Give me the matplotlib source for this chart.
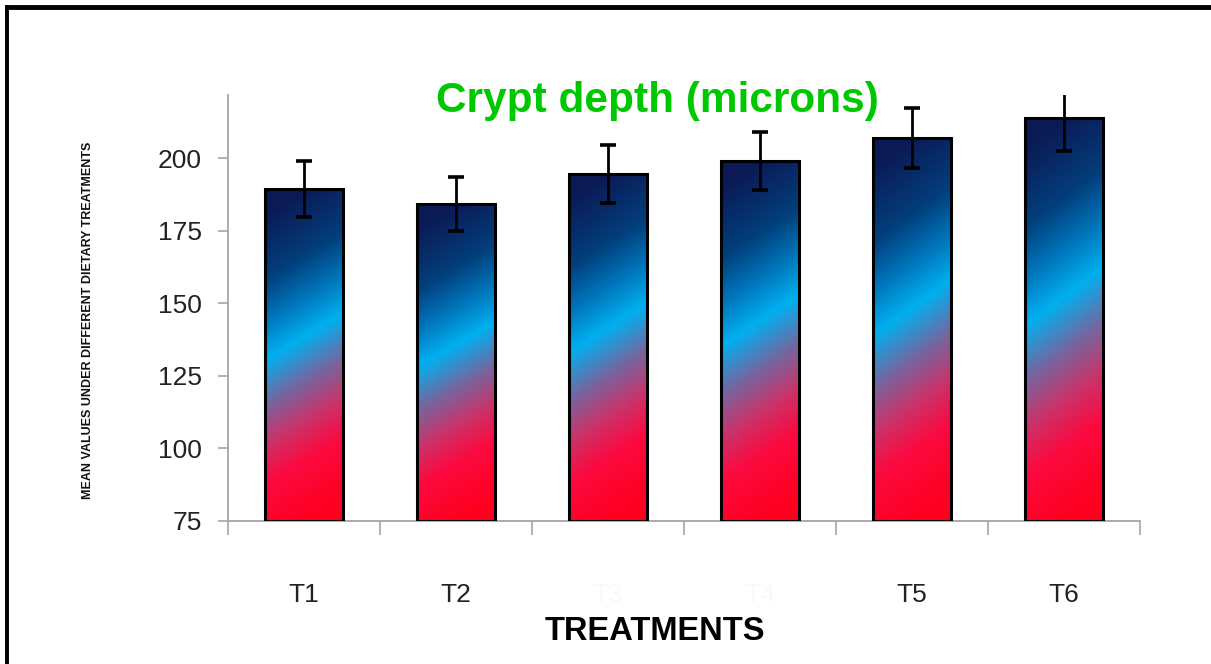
import numpy as np
import matplotlib
matplotlib.use("Agg")
import matplotlib.pyplot as plt
from matplotlib.colors import LinearSegmentedColormap
from matplotlib.patches import Rectangle
from matplotlib.lines import Line2D

# ---- data ----
categories = ["T1", "T2", "T3", "T4", "T5", "T6"]
means = [189.3, 184.2, 194.6, 199.0, 206.9, 213.8]
errors = [9.6, 9.2, 10.0, 10.1, 10.3, 11.4]
yticks = [75, 100, 125, 150, 175, 200]
label_colors = ["#222222", "#222222", "#f9f9f9", "#f9f9f9", "#222222", "#222222"]

narrow = ["Liberation Sans Narrow", "Liberation Sans", "DejaVu Sans"]

fig = plt.figure(figsize=(12.11, 6.64), dpi=100)
W, H = 1211, 664

ax = fig.add_axes([228 / W, 1 - 521 / H, (1140 - 228) / W, (521 - 95) / H])
ax.set_xlim(-0.5, len(categories) - 0.5)
ax.set_ylim(75, 221.7)

stops = [(0.0, "#0b1a55"), (0.2, "#023f7c"), (0.33, "#0077bc"), (0.445, "#00b0f0"),
         (0.58, "#7566a0"), (0.70, "#c8346a"), (0.82, "#fb0a40"), (1.0, "#ff0020")]
cmap = LinearSegmentedColormap.from_list("grad", stops)

bw = 0.51
x = np.arange(len(categories))
ny, nx = 300, 60
yy = np.linspace(0, 1, ny)[:, None]
xx = np.linspace(0, 1, nx)[None, :]
for xi, m in zip(x, means):
    s = yy - 0.14 * (0.5 - xx)
    s = np.clip(s, 0, 1)
    rect = Rectangle((xi - bw / 2, 75), bw, m - 75, facecolor="none",
                     edgecolor="black", linewidth=2.2, zorder=3)
    ax.add_patch(rect)
    im = ax.imshow(s, cmap=cmap, vmin=0, vmax=1, aspect="auto",
                   extent=(xi - bw / 2, xi + bw / 2, 75, m), origin="upper",
                   zorder=2, interpolation="bilinear")
    im.set_clip_path(rect)

ax.errorbar(x, means, yerr=errors, fmt="none", ecolor="black", elinewidth=2.0,
            capsize=5.5, capthick=2.6, zorder=4, clip_on=True)

ax.set_xlim(-0.5, len(categories) - 0.5)
ax.set_ylim(75, 221.7)

for sp in ["top", "right"]:
    ax.spines[sp].set_visible(False)
for sp in ["left", "bottom"]:
    ax.spines[sp].set_color("#a6a6a6")
    ax.spines[sp].set_linewidth(1.3)

ax.set_yticks(yticks)
ax.set_yticklabels([str(v) for v in yticks], fontsize=19, family=narrow, color="#222222")
ax.tick_params(axis="y", length=7, width=1.2, color="#a6a6a6", pad=12)

ax.set_xticks(np.arange(-0.5, len(categories), 1.0))
ax.set_xticklabels([])
ax.tick_params(axis="x", which="major", length=10, width=1.2, color="#a6a6a6")
ax.set_xticks(x, minor=True)
ax.set_xticklabels(categories, minor=True, fontsize=19, family=narrow)
ax.tick_params(axis="x", which="minor", length=0, pad=45)
for lbl, c in zip(ax.get_xticklabels(minor=True), label_colors):
    lbl.set_color(c)

ax.set_facecolor("none")

fig.text(657 / W, 1 - 101 / H, "Crypt depth (microns)", color="#00c800",
         fontsize=30.5, family=narrow, fontweight="bold", ha="center", va="center")
fig.text(655 / W, 1 - 616 / H, "TREATMENTS", color="black", fontsize=23.5,
         family=narrow, fontweight="bold", ha="center", va="top")
fig.text(88 / W, 1 - 320 / H, "MEAN VALUES UNDER DIFFERENT DIETARY TREATMENTS",
         rotation=90, fontsize=9, family=narrow, fontweight="bold",
         color="#111111", ha="center", va="center")

# outer frame (top and left edges)
fig.add_artist(Line2D([6.5 / W, 1.0], [1 - 7 / H, 1 - 7 / H], color="black",
                      linewidth=3.5, transform=fig.transFigure))
fig.add_artist(Line2D([6.5 / W, 6.5 / W], [0, 1 - 7 / H], color="black",
                      linewidth=2.8, transform=fig.transFigure))

fig.savefig("out.png", dpi=100)
